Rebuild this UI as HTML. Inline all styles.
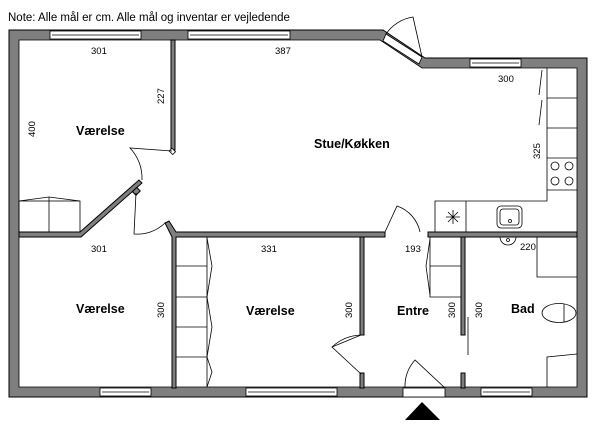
<!DOCTYPE html>
<html><head><meta charset="utf-8"><style>
html,body{margin:0;padding:0;background:#fff}
svg{display:block}
text{font-family:"Liberation Sans",sans-serif;fill:#000}
.w{fill:#7f7f7f;stroke:#000;stroke-width:1}
.l{fill:none;stroke:#000;stroke-width:0.8}
.f{fill:#fff;stroke:#000;stroke-width:0.8}
.lab{font-weight:bold;font-size:12.5px}
.d{font-size:9.5px}
</style></head><body>
<svg width="600" height="428" viewBox="0 0 600 428" xmlns="http://www.w3.org/2000/svg">
<text x="8" y="21" font-size="11.5">Note: Alle mål er cm. Alle mål og inventar er vejledende</text>
<polygon class="w" points="9,30 383,30 425,58 587,58 587,397 9,397"/>
<polygon fill="#fff" points="19,40 380,40 422,68 577,68 577,387 19,387"/>
<polygon class="l" points="19,40 380,40 422,68 577,68 577,387 19,387"/>
<rect class="f" x="50" y="31" width="91" height="8"/><line class="l" x1="52" y1="35" x2="139" y2="35"/>
<rect class="f" x="188" y="31" width="102" height="8"/><line class="l" x1="190" y1="35" x2="288" y2="35"/>
<rect class="f" x="470" y="59" width="51" height="8"/><line class="l" x1="472" y1="63" x2="519" y2="63"/>
<rect class="f" x="100" y="388" width="51" height="8"/><line class="l" x1="102" y1="392" x2="149" y2="392"/>
<rect class="f" x="246" y="388" width="91" height="8"/><line class="l" x1="248" y1="392" x2="335" y2="392"/>
<rect class="f" x="481" y="388" width="51" height="8"/><line class="l" x1="483" y1="392" x2="530" y2="392"/>
<polygon class="f" points="386,34 422,57 419,64 383,41"/>
<path class="l" d="M422,57 L413,17 A40,40 0 0 0 386,34"/>
<rect fill="#fff" stroke="#000" stroke-width="0.8" x="403" y="388" width="42" height="9"/>
<path class="l" d="M445,388 L415,360 A40,40 0 0 0 405,388"/>
<polygon points="405,420 440,420 422,402" fill="#000"/>
<rect class="w" x="171" y="40" width="4" height="110"/>
<rect class="f" x="170" y="149" width="5" height="4" transform="rotate(45 172 151)"/>
<polygon class="w" points="19,232 80,232 139,180 142,183 81,237 19,237"/>
<rect class="w" x="134" y="188" width="5" height="6" transform="rotate(45 136 191)"/>
<polygon class="w" points="165,223 169,221 176,232 385,232 385,237 176,237 176,388 172,388 172,237"/>
<rect class="w" x="428" y="232" width="149" height="5"/>
<rect class="w" x="360" y="237" width="4" height="98"/>
<rect class="w" x="360" y="373" width="4" height="15"/>
<rect class="w" x="461" y="237" width="4" height="98"/>
<rect class="w" x="461" y="373" width="4" height="15"/>
<path class="l" d="M172,151 L130,148 A44,44 0 0 1 142,180"/>
<path class="l" d="M136,193 L134,234 A40,40 0 0 0 165,223"/>
<path class="l" d="M385,232 L397,206 A35,35 0 0 1 420,232"/>
<path class="l" d="M361,335 L332,347 L361,374"/>
<path class="l" d="M332,347 A45,45 0 0 1 361,335"/>
<line class="l" x1="468" y1="317" x2="468" y2="355"/>
<polyline class="l" points="547,68 547,201 435,201 435,232"/>
<line class="l" x1="547" y1="98" x2="577" y2="98"/><line class="l" x1="547" y1="128" x2="577" y2="128"/>
<line class="l" x1="547" y1="158" x2="577" y2="158"/><line class="l" x1="547" y1="190" x2="577" y2="190"/>
<line class="l" x1="542" y1="70" x2="539" y2="95"/><line class="l" x1="542" y1="100" x2="539" y2="125"/>
<circle class="l" cx="555" cy="166" r="4"/><circle class="l" cx="569" cy="166" r="4"/>
<circle class="l" cx="555" cy="181" r="4"/><circle class="l" cx="569" cy="181" r="4"/>
<line class="l" x1="466" y1="201" x2="466" y2="232"/>
<path class="l" d="M446,217h14M453,210v14M448,212l10,10M458,212l-10,10"/>
<rect class="l" x="497" y="206" width="25" height="22" rx="4"/>
<rect class="l" x="500" y="209" width="19" height="16" rx="3"/>
<circle class="l" cx="510" cy="221" r="1.5"/>
<path class="l" d="M500,237 A8,8 0 0 0 516,237"/><circle class="l" cx="508" cy="240" r="1.5"/>
<polyline class="l" points="537,237 537,277 577,277"/>
<ellipse class="f" cx="559" cy="313" rx="17" ry="9.5"/>
<line class="l" x1="564" y1="304" x2="564" y2="322"/>
<polyline class="l" points="577,354 547,357 547,387"/>
<polyline class="l" points="430,237 430,297 461,297"/><line class="l" x1="430" y1="266" x2="461" y2="266"/>
<polyline class="l" points="430,239 426,266 430,295"/>
<line class="l" x1="207" y1="237" x2="207" y2="387"/>
<line class="l" x1="176" y1="266" x2="207" y2="266"/><line class="l" x1="176" y1="297" x2="207" y2="297"/>
<line class="l" x1="176" y1="327" x2="207" y2="327"/><line class="l" x1="176" y1="357" x2="207" y2="357"/>
<polyline class="l" points="207,238 212,266 207,297 212,327 207,357 212,372 207,387"/>
<rect class="l" x="19" y="201" width="61" height="31"/><line class="l" x1="49" y1="197" x2="49" y2="232"/>
<polyline class="l" points="19,201 49,197 80,201"/>
<text class="lab" x="76" y="135">Værelse</text>
<text class="lab" x="314" y="148">Stue/Køkken</text>
<text class="lab" x="76" y="313">Værelse</text>
<text class="lab" x="246" y="315">Værelse</text>
<text class="lab" x="397" y="315">Entre</text>
<text class="lab" x="511" y="313">Bad</text>
<text class="d" x="91" y="54">301</text>
<text class="d" x="275" y="54">387</text>
<text class="d" x="498" y="82">300</text>
<text class="d" x="91" y="252">301</text>
<text class="d" x="261" y="252">331</text>
<text class="d" x="405" y="252">193</text>
<text class="d" x="520" y="250">220</text>
<text class="d" transform="translate(164,104) rotate(-90)">227</text>
<text class="d" transform="translate(35,137) rotate(-90)">400</text>
<text class="d" transform="translate(540,159) rotate(-90)">325</text>
<text class="d" transform="translate(164,318) rotate(-90)">300</text>
<text class="d" transform="translate(352,318) rotate(-90)">300</text>
<text class="d" transform="translate(455,318) rotate(-90)">300</text>
<text class="d" transform="translate(482,318) rotate(-90)">300</text>
</svg>
</body></html>
